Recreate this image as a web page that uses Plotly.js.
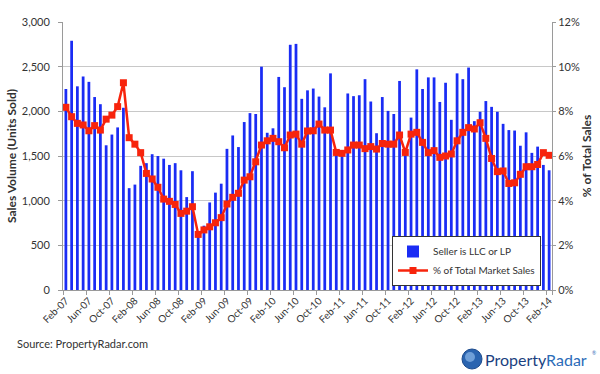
<!DOCTYPE html>
<html>
<head>
<meta charset="utf-8">
<script src="https://cdn.plot.ly/plotly-3.0.1.min.js"></script>
<style>
  html, body { margin: 0; padding: 0; background: #ffffff; }
  #chart { width: 600px; height: 374px; }
</style>
</head>
<body>
<div id="chart"></div>
<script>
const months = [
  'Feb-07','Mar-07','Apr-07','May-07','Jun-07','Jul-07','Aug-07','Sep-07','Oct-07','Nov-07','Dec-07','Jan-08',
  'Feb-08','Mar-08','Apr-08','May-08','Jun-08','Jul-08','Aug-08','Sep-08','Oct-08','Nov-08','Dec-08','Jan-09',
  'Feb-09','Mar-09','Apr-09','May-09','Jun-09','Jul-09','Aug-09','Sep-09','Oct-09','Nov-09','Dec-09','Jan-10',
  'Feb-10','Mar-10','Apr-10','May-10','Jun-10','Jul-10','Aug-10','Sep-10','Oct-10','Nov-10','Dec-10','Jan-11',
  'Feb-11','Mar-11','Apr-11','May-11','Jun-11','Jul-11','Aug-11','Sep-11','Oct-11','Nov-11','Dec-11','Jan-12',
  'Feb-12','Mar-12','Apr-12','May-12','Jun-12','Jul-12','Aug-12','Sep-12','Oct-12','Nov-12','Dec-12','Jan-13',
  'Feb-13','Mar-13','Apr-13','May-13','Jun-13','Jul-13','Aug-13','Sep-13','Oct-13','Nov-13','Dec-13','Jan-14',
  'Feb-14'
];

const llcSales = [
  2250, 2790, 2280, 2390, 2330, 2160, 2080, 1620, 1740, 1820, 2040, 1140,
  1180, 1390, 1420, 1520, 1500, 1470, 1400, 1420, 1340, 1040, 1330, 650,
  720, 980, 1090, 1190, 1580, 1730, 1600, 1880, 1980, 1970, 2500, 1760,
  1810, 2385, 2270, 2745, 2755, 2140, 2235, 2255, 2165, 2045, 2425, 1560,
  1540, 2200, 2170, 2180, 2360, 2110, 1755, 2160, 2005, 1970, 2340, 1560,
  1930, 2470, 2250, 2380, 2380, 2105, 2320, 1905, 2425, 2360, 2490, 1890,
  1995, 2115, 2050, 1995, 1860, 1790, 1785, 1615, 1765, 1535, 1605, 1400,
  1340
];

const pctOfTotal = [
  8.18, 7.76, 7.46, 7.39, 7.13, 7.36, 7.16, 7.65, 7.83, 8.21, 9.28, 6.82,
  6.53, 6.15, 5.22, 4.97, 4.60, 4.07, 3.97, 3.83, 3.43, 3.53, 3.73, 2.49,
  2.69, 2.83, 3.01, 3.24, 3.85, 4.15, 4.33, 4.92, 5.07, 5.74, 6.49, 6.68,
  6.79, 6.64, 6.37, 6.94, 6.98, 6.53, 7.12, 7.13, 7.43, 7.16, 7.16, 6.16,
  6.12, 6.27, 6.49, 6.49, 6.33, 6.42, 6.31, 6.56, 6.53, 6.53, 6.94, 6.16,
  6.98, 7.06, 6.61, 6.15, 6.24, 5.94, 6.00, 6.09, 6.68, 7.06, 7.27, 7.21,
  7.49, 6.79, 5.89, 5.30, 5.33, 4.77, 4.80, 5.18, 5.52, 5.52, 5.62, 6.15,
  6.03
];

const xTickLabels = ['Feb-07','Jun-07','Oct-07','Feb-08','Jun-08','Oct-08','Feb-09','Jun-09','Oct-09',
  'Feb-10','Jun-10','Oct-10','Feb-11','Jun-11','Oct-11','Feb-12','Jun-12','Oct-12','Feb-13','Jun-13','Oct-13','Feb-14'];

const seriesNames = ['Seller is LLC or LP', '% of Total Market Sales'];

const FONT = 'Lato, "Open Sans", sans-serif';
const TXT = '#333333';
const AXIS = '#9a9a9a';

const traces = [
  {
    type: 'bar',
    name: seriesNames[0],
    x: months,
    y: llcSales,
    marker: { color: '#1a2cf4', line: { width: 0 } },
    yaxis: 'y'
  },
  {
    type: 'scatter',
    mode: 'lines+markers',
    name: seriesNames[1],
    x: months,
    y: pctOfTotal,
    yaxis: 'y2',
    line: { color: '#f7240c', width: 2.5 },
    marker: { symbol: 'square', size: 7, color: '#f7240c' }
  }
];

const W = 489, H = 268, L = 63, T = 22;
function px(x) { return (x - L) / W; }
function py(y) { return (T + H - y) / H; }

const layout = {
  width: 600,
  height: 374,
  margin: { l: 63, r: 48, t: 22, b: 84 },
  paper_bgcolor: '#ffffff',
  plot_bgcolor: '#ffffff',
  font: { family: FONT, size: 11, color: TXT },
  bargap: 0.52,
  showlegend: true,
  legend: {
    x: px(392), y: py(236), xanchor: 'left', yanchor: 'top',
    bgcolor: '#ffffff', bordercolor: '#333333', borderwidth: 1,
    font: { family: FONT, size: 10, color: TXT },
    traceorder: 'normal', tracegroupgap: 0, itemwidth: 30
  },
  xaxis: {
    type: 'category',
    range: [-0.5, 84.5],
    tickmode: 'array',
    tickvals: xTickLabels,
    ticktext: xTickLabels,
    tickson: 'boundaries',
    ticks: 'outside',
    ticklen: 4,
    tickcolor: AXIS,
    tickangle: -45,
    tickfont: { family: FONT, size: 10, color: TXT },
    showline: true,
    linecolor: AXIS,
    linewidth: 1,
    showgrid: false,
    zeroline: false
  },
  yaxis: {
    range: [0, 3000],
    dtick: 500,
    tickformat: ',d',
    ticks: 'outside',
    ticklen: 4,
    tickcolor: AXIS,
    showline: true,
    linecolor: AXIS,
    gridcolor: '#c8c8c8',
    gridwidth: 1,
    zeroline: false,
    ticklabelstandoff: 6,
    tickfont: { family: FONT, size: 11, color: TXT },
    title: { text: 'Sales Volume (Units Sold)', font: { family: FONT, size: 12, color: TXT, weight: 'bold' }, standoff: 2 }
  },
  yaxis2: {
    overlaying: 'y',
    side: 'right',
    range: [0, 12],
    dtick: 2,
    ticksuffix: '%',
    ticks: 'outside',
    ticklen: 3,
    tickcolor: AXIS,
    showline: true,
    linecolor: AXIS,
    showgrid: false,
    zeroline: false,
    tickfont: { family: FONT, size: 11, color: TXT },
    title: { text: '% of Total Sales', font: { family: FONT, size: 12, color: TXT, weight: 'bold' }, standoff: 3 }
  },
  shapes: [
    { type: 'circle', xref: 'paper', yref: 'paper',
      x0: px(462), x1: px(482), y0: py(369), y1: py(349),
      fillcolor: '#2a64b0', line: { color: '#1c4a8c', width: 1 } },
    { type: 'circle', xref: 'paper', yref: 'paper',
      x0: px(465), x1: px(475), y0: py(362), y1: py(352),
      fillcolor: '#6f9fd8', line: { width: 0 } }
  ],
  annotations: [
    { text: 'Source: PropertyRadar.com', xref: 'paper', yref: 'paper',
      x: px(15), y: py(343), xanchor: 'left', yanchor: 'middle', showarrow: false,
      font: { family: FONT, size: 11, color: TXT } },
    { text: '<span style="color:#1b3f80">Property</span><span style="color:#2b6cb8">Radar</span>',
      xref: 'paper', yref: 'paper',
      x: px(483), y: py(359), xanchor: 'left', yanchor: 'middle', showarrow: false,
      font: { family: FONT, size: 16, color: '#1b3f80' } },
    { text: '®', xref: 'paper', yref: 'paper',
      x: px(590), y: py(353), xanchor: 'left', yanchor: 'middle', showarrow: false,
      font: { family: FONT, size: 5, color: '#2b6cb8' } }
  ]
};

Plotly.newPlot('chart', traces, layout, { displayModeBar: false, staticPlot: true });
</script>
</body>
</html>
